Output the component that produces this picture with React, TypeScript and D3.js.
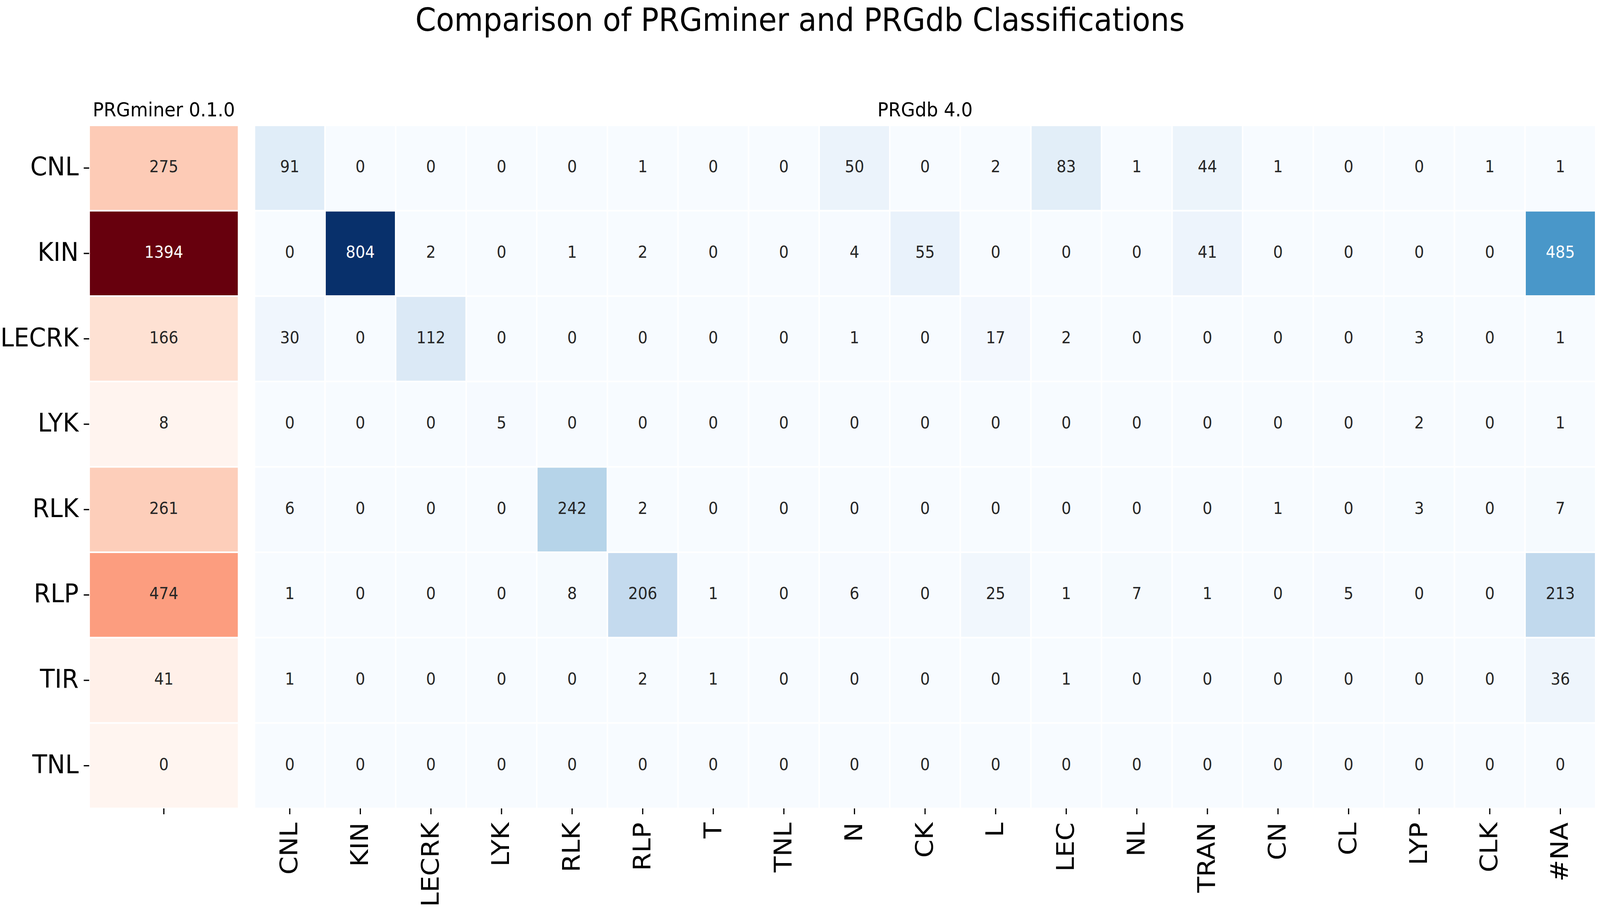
import React, { useRef, useEffect } from "react";
import * as d3 from "d3";

const rowCats = ["CNL", "KIN", "LECRK", "LYK", "RLK", "RLP", "TIR", "TNL"];
const colCats = ["CNL", "KIN", "LECRK", "LYK", "RLK", "RLP", "T", "TNL", "N", "CK", "L", "LEC", "NL", "TRAN", "CN", "CL", "LYP", "CLK", "#NA"];

// PRGminer 0.1.0 totals per class
const minerTotals = [275, 1394, 166, 8, 261, 474, 41, 0];

// PRGdb 4.0 counts, one array per PRGminer class
const cnlRow = [91, 0, 0, 0, 0, 1, 0, 0, 50, 0, 2, 83, 1, 44, 1, 0, 0, 1, 1];
const kinRow = [0, 804, 2, 0, 1, 2, 0, 0, 4, 55, 0, 0, 0, 41, 0, 0, 0, 0, 485];
const lecrkRow = [30, 0, 112, 0, 0, 0, 0, 0, 1, 0, 17, 2, 0, 0, 0, 0, 3, 0, 1];
const lykRow = [0, 0, 0, 5, 0, 0, 0, 0, 0, 0, 0, 0, 0, 0, 0, 0, 2, 0, 1];
const rlkRow = [6, 0, 0, 0, 242, 2, 0, 0, 0, 0, 0, 0, 0, 0, 1, 0, 3, 0, 7];
const rlpRow = [1, 0, 0, 0, 8, 206, 1, 0, 6, 0, 25, 1, 7, 1, 0, 5, 0, 0, 213];
const tirRow = [1, 0, 0, 0, 0, 2, 1, 0, 0, 0, 0, 1, 0, 0, 0, 0, 0, 0, 36];
const tnlRow = [0, 0, 0, 0, 0, 0, 0, 0, 0, 0, 0, 0, 0, 0, 0, 0, 0, 0, 0];
const dbRows = [cnlRow, kinRow, lecrkRow, lykRow, rlkRow, rlpRow, tirRow, tnlRow];

const W = 4414;
const H = 2325;
const FONT = "DejaVu Sans, sans-serif";

// matplotlib-like linear segmented map over the 9 ColorBrewer colours
const makeCmap = (scheme: readonly string[], vmax: number) =>
  d3
    .scaleLinear<string>()
    .domain(scheme.map((_, i) => (i / (scheme.length - 1)) * vmax))
    .range(scheme as string[])
    .interpolate(d3.interpolateRgb)
    .clamp(true);

// seaborn picks white text on dark cells
const textColor = (fill: string) => {
  const c = d3.rgb(fill);
  const lin = (v: number) => {
    const s = v / 255;
    return s <= 0.03928 ? s / 12.92 : Math.pow((s + 0.055) / 1.055, 2.4);
  };
  const lum = 0.2126 * lin(c.r) + 0.7152 * lin(c.g) + 0.0722 * lin(c.b);
  return lum > 0.408 ? "#262626" : "#ffffff";
};

const Heatmap: React.FC = () => {
  const svgRef = useRef<SVGSVGElement>(null);

  useEffect(() => {
    const svg = d3.select(svgRef.current);
    svg.selectAll("*").remove();

    const top = 321;
    const bottom = 2070;
    const y = d3.scaleBand().domain(rowCats).range([top, bottom]).padding(0);
    const xLeft = d3.scaleBand().domain([""]).range([246, 658]).padding(0);
    const xRight = d3.scaleBand().domain(colCats).range([702, 4402]).padding(0);

    const reds = makeCmap(d3.schemeReds[9], d3.max(minerTotals) ?? 1);
    const blues = makeCmap(d3.schemeBlues[9], d3.max(dbRows.flat()) ?? 1);

    // title
    svg
      .append("text")
      .attr("x", W / 2)
      .attr("y", 79)
      .attr("text-anchor", "middle")
      .style("font-family", FONT)
      .style("font-size", "82px")
      .text("Comparison of PRGminer and PRGdb Classifications");

    // left heatmap (PRGminer)
    const left = svg.append("g");
    const leftCells = left
      .selectAll(".cell")
      .data(minerTotals.map((v, i) => ({ row: rowCats[i], v })))
      .enter()
      .append("g");
    leftCells
      .append("rect")
      .attr("x", xLeft("")!)
      .attr("y", (d) => y(d.row)!)
      .attr("width", xLeft.bandwidth())
      .attr("height", y.bandwidth())
      .attr("fill", (d) => reds(d.v))
      .attr("stroke", "#fff")
      .attr("stroke-width", 4);
    leftCells
      .append("text")
      .attr("x", xLeft("")! + xLeft.bandwidth() / 2)
      .attr("y", (d) => y(d.row)! + y.bandwidth() / 2 + 11)
      .attr("text-anchor", "middle")
      .attr("fill", (d) => textColor(reds(d.v)))
      .style("font-family", FONT)
      .style("font-size", "42px")
      .text((d) => d.v);

    left
      .append("text")
      .attr("x", xLeft("")! + xLeft.bandwidth() / 2)
      .attr("y", 298)
      .attr("text-anchor", "middle")
      .style("font-family", FONT)
      .style("font-size", "50px")
      .text("PRGminer 0.1.0");

    // y ticks + labels
    rowCats.forEach((r) => {
      const cy = y(r)! + y.bandwidth() / 2;
      left
        .append("line")
        .attr("x1", 246)
        .attr("x2", 231)
        .attr("y1", cy)
        .attr("y2", cy)
        .attr("stroke", "#000")
        .attr("stroke-width", 3.3);
      left
        .append("text")
        .attr("x", 217)
        .attr("y", cy + 19)
        .attr("text-anchor", "end")
        .style("font-family", FONT)
        .style("font-size", "66.7px")
        .text(r);
    });

    // empty x tick under left heatmap
    const lx = xLeft("")! + xLeft.bandwidth() / 2;
    left
      .append("line")
      .attr("x1", lx)
      .attr("x2", lx)
      .attr("y1", bottom)
      .attr("y2", bottom + 15)
      .attr("stroke", "#000")
      .attr("stroke-width", 3.3);

    // right heatmap (PRGdb)
    const right = svg.append("g");
    const cells = dbRows.flatMap((row, i) =>
      row.map((v, j) => ({ row: rowCats[i], col: colCats[j], v }))
    );
    const rc = right.selectAll(".cell").data(cells).enter().append("g");
    rc.append("rect")
      .attr("x", (d) => xRight(d.col)!)
      .attr("y", (d) => y(d.row)!)
      .attr("width", xRight.bandwidth())
      .attr("height", y.bandwidth())
      .attr("fill", (d) => blues(d.v))
      .attr("stroke", "#fff")
      .attr("stroke-width", 4);
    rc.append("text")
      .attr("x", (d) => xRight(d.col)! + xRight.bandwidth() / 2)
      .attr("y", (d) => y(d.row)! + y.bandwidth() / 2 + 11)
      .attr("text-anchor", "middle")
      .attr("fill", (d) => textColor(blues(d.v)))
      .style("font-family", FONT)
      .style("font-size", "42px")
      .text((d) => d.v);

    right
      .append("text")
      .attr("x", (702 + 4402) / 2)
      .attr("y", 298)
      .attr("text-anchor", "middle")
      .style("font-family", FONT)
      .style("font-size", "50px")
      .text("PRGdb 4.0");

    colCats.forEach((c) => {
      const cx = xRight(c)! + xRight.bandwidth() / 2;
      right
        .append("line")
        .attr("x1", cx)
        .attr("x2", cx)
        .attr("y1", bottom)
        .attr("y2", bottom + 15)
        .attr("stroke", "#000")
        .attr("stroke-width", 3.3);
      right
        .append("text")
        .attr("transform", `translate(${cx + 21},${2106}) rotate(-90)`)
        .attr("text-anchor", "end")
        .style("font-family", FONT)
        .style("font-size", "66.7px")
        .text(c);
    });
  }, []);

  // fill the whole window with the 4414x2325 figure
  return (
    <svg
      ref={svgRef}
      viewBox={`0 0 ${W} ${H}`}
      preserveAspectRatio="none"
      style={{
        position: "absolute",
        left: 0,
        top: 0,
        width: "100vw",
        height: "100vh",
        background: "#fff",
      }}
    ></svg>
  );
};

export default function App() {
  return <Heatmap />;
}
